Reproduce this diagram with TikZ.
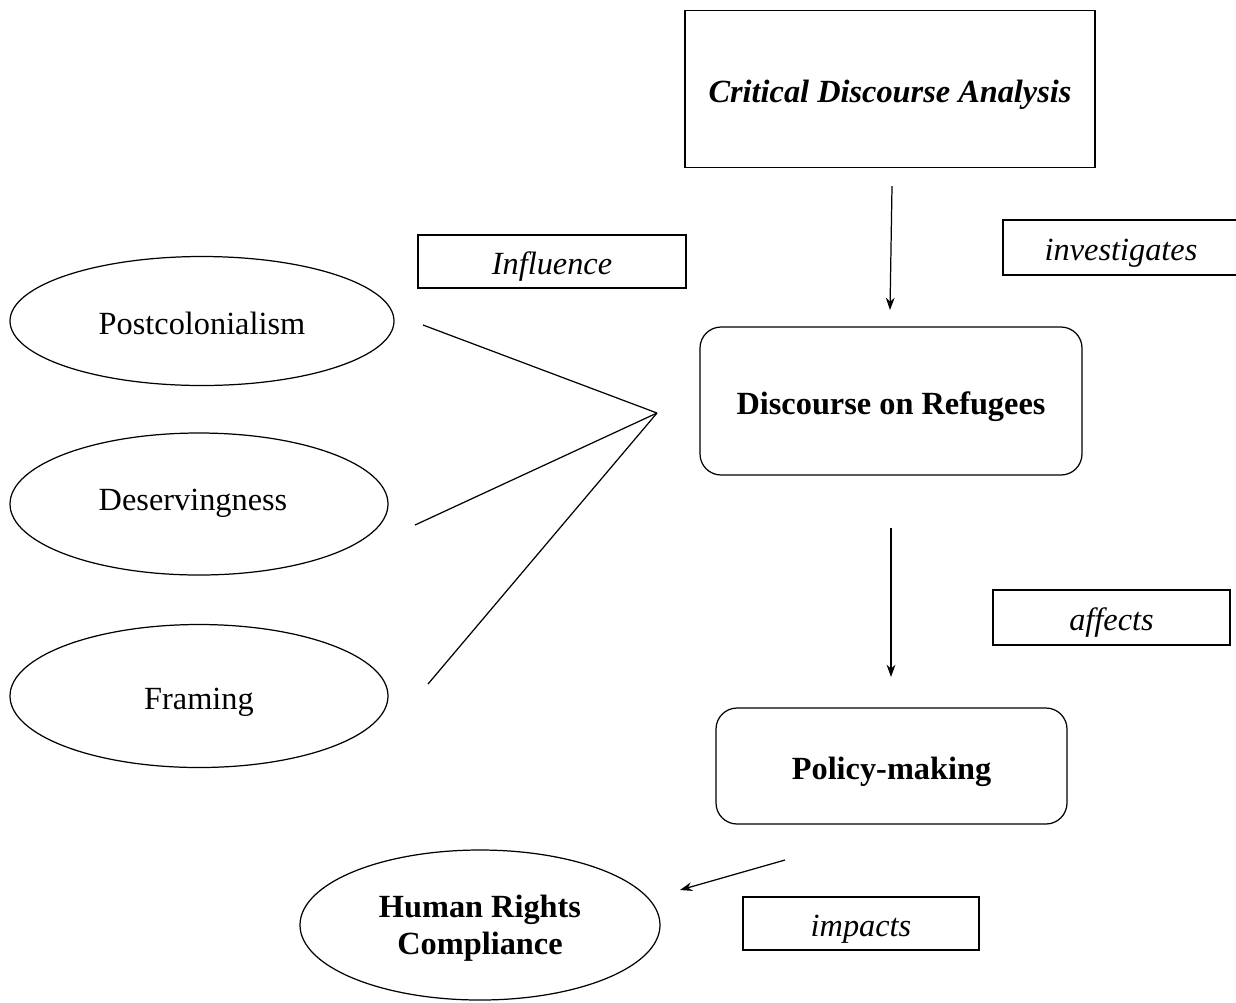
\documentclass[tikz,border=0pt]{standalone}
\usepackage{fontspec}
\setmainfont{Liberation Serif}
\usetikzlibrary{shapes.geometric,arrows.meta}
\tikzset{
  txt/.style = {font=\fontsize{18.4}{21}\selectfont, text height=15pt, text depth=0pt},
  box/.style = {draw, rectangle, inner sep=0pt, txt},
  rbox/.style = {draw, rectangle, rounded corners=12pt, inner sep=0pt, txt, font=\fontsize{18.4}{21}\selectfont\bfseries},
  oval/.style = {draw, ellipse, inner sep=0pt, txt},
  lbl/.style = {box, font=\fontsize{18.4}{21}\selectfont\itshape},
  arr/.style = {-{Stealth[length=7pt,width=5pt]}}
}
\begin{document}
\begin{tikzpicture} [x = 0.02cm, y = -0.02cm, line width = 0.7pt]
    \useasboundingbox (0,0) rectangle (1236,1002);
    % boxes
    \node [box, minimum width = 410*0.02cm, minimum height = 157*0.02cm,
      font=\fontsize{18.4}{21}\selectfont\bfseries\itshape] (cda) at (890,89) {Critical Discourse Analysis};
    \node [rbox, minimum width = 382*0.02cm, minimum height = 148*0.02cm] (refugees) at (891,401) {Discourse on Refugees};
    \node [rbox, minimum width = 351*0.02cm, minimum height = 116*0.02cm] (policy) at (891.5,766) {Policy-making};
    % ellipses
    \node [oval, minimum width = 384*0.02cm, minimum height = 129*0.02cm] (postcol) at (202,321) {Postcolonialism};
    \node [oval, minimum width = 378*0.02cm, minimum height = 142*0.02cm] (deserv) at (199,504) {};
    \node [txt] at (193,497) {Deservingness};
    \node [oval, minimum width = 378*0.02cm, minimum height = 143*0.02cm] (framing) at (199,696) {Framing};
    \node [draw, ellipse, inner sep=0pt, minimum width = 360*0.02cm, minimum height = 150*0.02cm, align=center,
      text depth=0pt, font=\fontsize{18.4}{21}\selectfont\bfseries] (hrc) at (480,925) {Human Rights\\Compliance};
    % labels
    \node [lbl, minimum width = 268*0.02cm, minimum height = 53*0.02cm] (influence) at (552,261.5) {Influence};
    \node [lbl, minimum width = 236*0.02cm, minimum height = 55*0.02cm] (investigates) at (1121,247.5) {investigates};
    \node [lbl, minimum width = 237*0.02cm, minimum height = 55*0.02cm] (affects) at (1111.5,617.5) {affects};
    \node [lbl, minimum width = 236*0.02cm, minimum height = 53*0.02cm] (impacts) at (861,923.5) {impacts};
    % connectors
    \coordinate (meet) at (657,413);
    \coordinate (p1) at (423,325);
    \coordinate (p2) at (415,525);
    \coordinate (p3) at (428,684);
    \draw (p1)--(meet);
    \draw (p2)--(meet);
    \draw (p3)--(meet);
    \coordinate (a1) at (892,186);
    \coordinate (a2) at (890,310);
    \draw [arr] (a1)--(a2);
    \coordinate (b1) at (891,528);
    \coordinate (b2) at (891,677);
    \draw [arr] (b1)--(b2);
    \coordinate (c1) at (785,860);
    \coordinate (c2) at (680,890);
    \draw [arr] (c1)--(c2);
\end{tikzpicture}
\end{document}
